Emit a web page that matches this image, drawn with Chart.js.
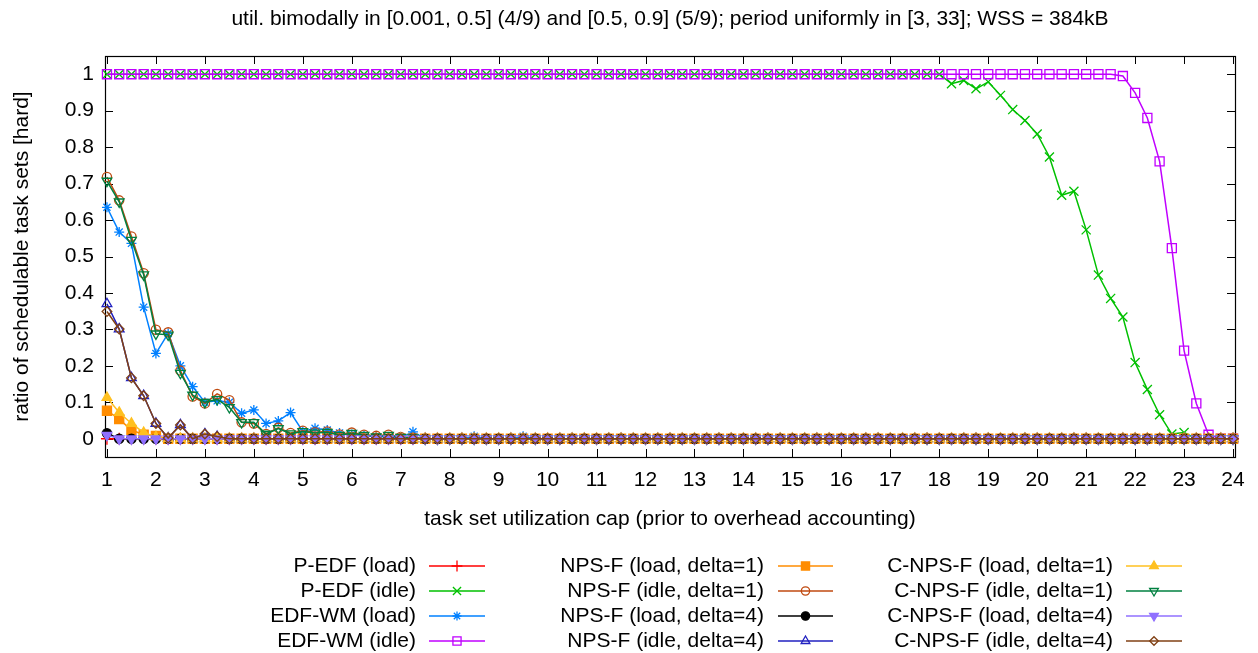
<!DOCTYPE html>
<html>
<head>
<meta charset="utf-8">
<script src="https://cdn.jsdelivr.net/npm/chart.js@4/dist/chart.umd.min.js"></script>
<style>
  html, body { margin: 0; padding: 0; background: #ffffff; }
  #wrap { width: 1258px; height: 653px; position: relative; }
</style>
</head>
<body>
<div id="wrap"><canvas id="c" width="1258" height="653"></canvas></div>
<script>
// ---- data ----
const xValues = [1,1.25,1.5,1.75,2,2.25,2.5,2.75,3,3.25,3.5,3.75,4,4.25,4.5,4.75,5,5.25,5.5,5.75,6,6.25,6.5,6.75,7,7.25,7.5,7.75,8,8.25,8.5,8.75,9,9.25,9.5,9.75,10,10.25,10.5,10.75,11,11.25,11.5,11.75,12,12.25,12.5,12.75,13,13.25,13.5,13.75,14,14.25,14.5,14.75,15,15.25,15.5,15.75,16,16.25,16.5,16.75,17,17.25,17.5,17.75,18,18.25,18.5,18.75,19,19.25,19.5,19.75,20,20.25,20.5,20.75,21,21.25,21.5,21.75,22,22.25,22.5,22.75,23,23.25,23.5,23.75,24];

const xTicks = [1,2,3,4,5,6,7,8,9,10,11,12,13,14,15,16,17,18,19,20,21,22,23,24];
const yTicks = [0,0.1,0.2,0.3,0.4,0.5,0.6,0.7,0.8,0.9,1];
const yTickLabels = ["0","0.1","0.2","0.3","0.4","0.5","0.6","0.7","0.8","0.9","1"];

const pedfLoad = [0,0,0,0,0,0,0,0,0,0, 0,0,0,0,0,0,0,0,0,0, 0,0,0,0,0,0,0,0,0,0, 0,0,0,0,0,0,0,0,0,0, 0,0,0,0,0,0,0,0,0,0, 0,0,0,0,0,0,0,0,0,0, 0,0,0,0,0,0,0,0,0,0, 0,0,0,0,0,0,0,0,0,0, 0,0,0,0,0,0,0,0,0,0, 0,0,0];

const pedfIdle = [1,1,1,1,1,1,1,1,1,1, 1,1,1,1,1,1,1,1,1,1, 1,1,1,1,1,1,1,1,1,1, 1,1,1,1,1,1,1,1,1,1, 1,1,1,1,1,1,1,1,1,1, 1,1,1,1,1,1,1,1,1,1, 1,1,1,1,1,1,1,1,1,
  0.974,0.983,0.96,0.979,0.942,0.903,0.873,0.836,0.773,0.668, 0.679,0.573,0.449,0.385,0.334,0.209,0.135,0.066,0.013,0.017, 0,0,0,0];

const edfwmLoad = [0.635,0.567,0.536,0.361,0.234,0.289,0.2,0.143,0.1,0.104, 0.1,0.07,0.079,0.042,0.049,0.072,0.02,0.029,0.024,0.016, 0.012,0.008,0.006,0.005,0.003,0.019,
  0,0,0,0, 0.007, 0,0,0, 0.007,
  0,0,0,0,0,0,0,0,0,0, 0,0,0,0,0,0,0,0,0,0, 0,0,0,0,0,0,0,0,0,0, 0,0,0,0,0,0,0,0,0,0, 0,0,0,0,0,0,0,0,0,0, 0,0,0,0,0,0,0,0];

const edfwmIdle = [1,1,1,1,1,1,1,1,1,1, 1,1,1,1,1,1,1,1,1,1, 1,1,1,1,1,1,1,1,1,1, 1,1,1,1,1,1,1,1,1,1, 1,1,1,1,1,1,1,1,1,1, 1,1,1,1,1,1,1,1,1,1, 1,1,1,1,1,1,1,1,1,1, 1,1,1,1,1,1,1,1,1,1, 1,1,1,
  0.995,0.949,0.88,0.761,0.523,0.242,0.097,0.011, 0,0];

const npsfLoad1 = [0.077,0.054,0.024,0.011,0.008,
  0,0,0,0,0,0,0,0,0,0, 0,0,0,0,0,0,0,0,0,0, 0,0,0,0,0,0,0,0,0,0, 0,0,0,0,0,0,0,0,0,0, 0,0,0,0,0,0,0,0,0,0, 0,0,0,0,0,0,0,0,0,0, 0,0,0,0,0,0,0,0,0,0, 0,0,0,0,0,0,0,0,0,0, 0,0,0,0,0,0,0,0];

const npsfIdle1 = [0.718,0.654,0.555,0.454,0.299,0.292,0.187,0.116,0.097,0.123, 0.106,0.045,0.042,0.013,0.03,0.016,0.022,0.018,0.02,0.012, 0.017,0.011,0.008,0.011,0.005,0.003,
  0,0,0,0,0,0,0,0,0,0, 0,0,0,0,0,0,0,0,0,0, 0,0,0,0,0,0,0,0,0,0, 0,0,0,0,0,0,0,0,0,0, 0,0,0,0,0,0,0,0,0,0, 0,0,0,0,0,0,0,0,0,0, 0,0,0,0,0,0,0];

const npsfLoad4 = [0.015,
  0,0,0,0,0,0,0,0,0,0, 0,0,0,0,0,0,0,0,0,0, 0,0,0,0,0,0,0,0,0,0, 0,0,0,0,0,0,0,0,0,0, 0,0,0,0,0,0,0,0,0,0, 0,0,0,0,0,0,0,0,0,0, 0,0,0,0,0,0,0,0,0,0, 0,0,0,0,0,0,0,0,0,0, 0,0,0,0,0,0,0,0,0,0, 0,0];

const npsfIdle4 = [0.37,0.301,0.167,0.118,0.042,0.002,0.038,0,0.013,0.006,
  0,0,0,0,0,0,0,0,0,0, 0,0,0,0,0,0,0,0,0,0, 0,0,0,0,0,0,0,0,0,0, 0,0,0,0,0,0,0,0,0,0, 0,0,0,0,0,0,0,0,0,0, 0,0,0,0,0,0,0,0,0,0, 0,0,0,0,0,0,0,0,0,0, 0,0,0,0,0,0,0,0,0,0, 0,0,0];

const cnpsfLoad1 = [0.113,0.072,0.042,0.017,0.005,
  0,0,0,0,0,0,0,0,0,0, 0,0,0,0,0,0,0,0,0,0, 0,0,0,0,0,0,0,0,0,0, 0,0,0,0,0,0,0,0,0,0, 0,0,0,0,0,0,0,0,0,0, 0,0,0,0,0,0,0,0,0,0, 0,0,0,0,0,0,0,0,0,0, 0,0,0,0,0,0,0,0,0,0, 0,0,0,0,0,0,0,0];

const cnpsfIdle1 = [0.707,0.65,0.545,0.45,0.288,0.285,0.18,0.12,0.1,0.108, 0.086,0.045,0.045,0.013,0.028,0.014,0.02,0.016,0.018,0.01, 0.015,0.01,0.006,0.01,0.004,0.003,
  0,0,0,0,0,0,0,0,0,0, 0,0,0,0,0,0,0,0,0,0, 0,0,0,0,0,0,0,0,0,0, 0,0,0,0,0,0,0,0,0,0, 0,0,0,0,0,0,0,0,0,0, 0,0,0,0,0,0,0,0,0,0, 0,0,0,0,0,0,0];

const cnpsfLoad4 = [0.01,
  0,0,0,0,0,0,0,0,0,0, 0,0,0,0,0,0,0,0,0,0, 0,0,0,0,0,0,0,0,0,0, 0,0,0,0,0,0,0,0,0,0, 0,0,0,0,0,0,0,0,0,0, 0,0,0,0,0,0,0,0,0,0, 0,0,0,0,0,0,0,0,0,0, 0,0,0,0,0,0,0,0,0,0, 0,0,0,0,0,0,0,0,0,0, 0,0];

const cnpsfIdle4 = [0.349,0.301,0.167,0.118,0.042,0.002,0.038,0,0.013,0.006,
  0,0,0,0,0,0,0,0,0,0, 0,0,0,0,0,0,0,0,0,0, 0,0,0,0,0,0,0,0,0,0, 0,0,0,0,0,0,0,0,0,0, 0,0,0,0,0,0,0,0,0,0, 0,0,0,0,0,0,0,0,0,0, 0,0,0,0,0,0,0,0,0,0, 0,0,0,0,0,0,0,0,0,0, 0,0,0];

const seriesNames = ["P-EDF (load)","P-EDF (idle)","EDF-WM (load)","EDF-WM (idle)",
  "NPS-F (load, delta=1)","NPS-F (idle, delta=1)","NPS-F (load, delta=4)","NPS-F (idle, delta=4)",
  "C-NPS-F (load, delta=1)","C-NPS-F (idle, delta=1)","C-NPS-F (load, delta=4)","C-NPS-F (idle, delta=4)"];
const seriesData = [pedfLoad, pedfIdle, edfwmLoad, edfwmIdle, npsfLoad1, npsfIdle1, npsfLoad4, npsfIdle4,
  cnpsfLoad1, cnpsfIdle1, cnpsfLoad4, cnpsfIdle4];

// ---- styles ----
const seriesColors = ["#ff0000","#00c000","#0080ff","#c000ff","#ff8c00","#c04a10","#000000","#2020c0",
  "#ffc020","#008040","#9070ff","#804014"];
const seriesMarkers = ["cross","crossRot","star","rect","rect","circle","circle","triangle",
  "triangle","triangle","triangle","rectRot"];
const seriesRotation = [0,0,0,0,0,0,0,0,0,180,180,0];
const seriesFilled = [false,false,false,false,true,false,true,false,true,false,true,false];
const seriesRadius = [6,6.4,5,6.4,6.4,4.6,4.6,5.6,5.6,5.6,5.6,4.8];

const FONT = "'Liberation Sans', Arial, Helvetica, sans-serif";
const FS = 21;

const datasets = seriesNames.map((name, i) => ({
  label: name,
  data: seriesData[i],
  borderColor: seriesColors[i],
  backgroundColor: seriesColors[i],
  borderWidth: 1.5,
  pointStyle: seriesMarkers[i],
  pointRotation: seriesRotation[i],
  pointRadius: seriesRadius[i],
  pointHoverRadius: seriesRadius[i],
  pointBorderWidth: 1.3,
  pointBorderColor: seriesColors[i],
  pointBackgroundColor: seriesFilled[i] ? seriesColors[i] : 'rgba(0,0,0,0)',
  tension: 0,
  fill: false,
  clip: false,
  order: seriesNames.length - i
}));

const deco = {
  id: 'deco',
  beforeDatasetsDraw(chart) {
    const ctx = chart.ctx, a = chart.chartArea;
    const xs = chart.scales.x, ys = chart.scales.y;
    ctx.save();
    ctx.strokeStyle = '#000';
    ctx.lineWidth = 1;
    ctx.beginPath();
    yTicks.forEach(v => {
      const y = Math.round(ys.getPixelForValue(v)) + 0.5;
      ctx.moveTo(a.left, y); ctx.lineTo(a.left + 8, y);
      ctx.moveTo(a.right, y); ctx.lineTo(a.right - 8, y);
    });
    xTicks.forEach(v => {
      const x = Math.round(xs.getPixelForValue(v)) + 0.5;
      ctx.moveTo(x, a.bottom); ctx.lineTo(x, a.bottom - 8);
      ctx.moveTo(x, a.top); ctx.lineTo(x, a.top + 8);
    });
    ctx.stroke();
    ctx.lineWidth = 1.2;
    ctx.strokeRect(Math.round(a.left) + 0.5, Math.round(a.top) + 0.5,
      Math.round(a.right - a.left), Math.round(a.bottom - a.top));
    ctx.restore();
  },
  afterDraw(chart) {
    const ctx = chart.ctx, a = chart.chartArea;
    const cx = (a.left + a.right) / 2;
    ctx.save();
    ctx.fillStyle = '#000';
    ctx.font = FS + 'px ' + FONT;
    ctx.textAlign = 'center';
    ctx.textBaseline = 'middle';
    ctx.fillText('util. bimodally in [0.001, 0.5] (4/9) and [0.5, 0.9] (5/9); period uniformly in [3, 33]; WSS = 384kB', cx, 19);
    ctx.fillText('task set utilization cap (prior to overhead accounting)', cx, 519);
    ctx.save();
    ctx.translate(22, (a.top + a.bottom) / 2);
    ctx.rotate(-Math.PI / 2);
    ctx.fillText('ratio of schedulable task sets [hard]', 0, 0);
    ctx.restore();

    // legend: three columns of four entries
    const cols = [
      { textRight: 416, x1: 429, x2: 485 },
      { textRight: 764, x1: 778, x2: 833 },
      { textRight: 1113, x1: 1126, x2: 1182 }
    ];
    const rowY = [566, 591, 616, 641];
    seriesNames.forEach((name, i) => {
      const col = cols[Math.floor(i / 4)];
      const y = rowY[i % 4];
      ctx.fillStyle = '#000';
      ctx.textAlign = 'right';
      ctx.fillText(name, col.textRight, y);
      ctx.strokeStyle = seriesColors[i];
      ctx.lineWidth = 1.5;
      ctx.beginPath();
      ctx.moveTo(col.x1, y); ctx.lineTo(col.x2, y);
      ctx.stroke();
      const mx = (col.x1 + col.x2) / 2;
      ctx.fillStyle = seriesFilled[i] ? seriesColors[i] : 'rgba(0,0,0,0)';
      ctx.lineWidth = 1.3;
      if (Chart.helpers && Chart.helpers.drawPoint) {
        Chart.helpers.drawPoint(ctx, {
          pointStyle: seriesMarkers[i], rotation: seriesRotation[i],
          radius: seriesRadius[i] * 0.9, borderWidth: 1.3
        }, mx, y);
      }
    });
    ctx.restore();
  }
};

new Chart(document.getElementById('c'), {
  type: 'line',
  data: { labels: xValues, datasets },
  options: {
    responsive: false,
    animation: false,
    devicePixelRatio: 1,
    layout: { padding: { left: 0, right: 23, top: 56, bottom: 156 } },
    plugins: { legend: { display: false }, title: { display: false }, tooltip: { enabled: false } },
    scales: {
      x: {
        type: 'linear',
        min: 0.96, max: 24.04,
        afterBuildTicks: s => { s.ticks = xTicks.map(v => ({ value: v })); },
        afterFit: s => { s.height = 40; },
        grid: { display: false, drawTicks: false },
        border: { display: false },
        ticks: { color: '#000', font: { family: FONT, size: FS }, padding: 11, maxRotation: 0, autoSkip: false,
          callback: (v, i) => String(xTicks[i]) }
      },
      y: {
        type: 'linear',
        min: -0.05, max: 1.05,
        afterBuildTicks: s => { s.ticks = yTicks.map(v => ({ value: v })); },
        afterFit: s => { s.width = 105; },
        grid: { display: false, drawTicks: false },
        border: { display: false },
        ticks: { color: '#000', font: { family: FONT, size: FS }, padding: 11, autoSkip: false,
          callback: (v, i) => yTickLabels[i] }
      }
    }
  },
  plugins: [deco]
});
</script>
</body>
</html>
